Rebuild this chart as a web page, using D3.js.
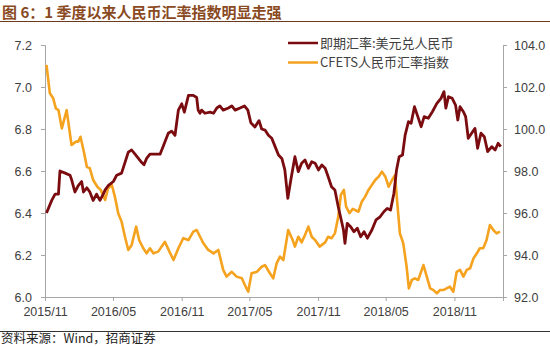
<!DOCTYPE html>
<html>
<head>
<meta charset="utf-8">
<script src="https://cdn.jsdelivr.net/npm/d3@7"></script>
<style>
  html, body { margin: 0; padding: 0; background: #fff; }
  svg { display: block; }
  text { font-family: "Liberation Sans", Arial, "Noto Sans CJK SC", sans-serif; }
  .cjk { font-family: "Noto Sans CJK SC", "Liberation Sans", sans-serif; }
</style>
</head>
<body>
<svg id="chart" width="550" height="347"></svg>
<script>
// USD/CNY spot rate (left axis)
const usdCny = [
  ["2015-11-05",6.40],["2015-11-19",6.46],["2015-11-28",6.49],["2015-12-07",6.49],["2015-12-11",6.60],
  ["2015-12-25",6.59],["2016-01-07",6.58],["2016-01-11",6.56],["2016-01-20",6.50],["2016-01-29",6.53],
  ["2016-02-07",6.55],["2016-02-12",6.50],["2016-02-21",6.52],["2016-02-29",6.50],["2016-03-09",6.46],
  ["2016-03-18",6.49],["2016-03-27",6.46],["2016-04-05",6.49],["2016-04-10",6.51],["2016-04-18",6.53],
  ["2016-05-02",6.55],["2016-05-11",6.58],["2016-05-24",6.59],["2016-06-02",6.64],["2016-06-11",6.69],
  ["2016-06-20",6.70],["2016-06-29",6.68],["2016-07-08",6.66],["2016-07-17",6.64],["2016-07-23",6.63],
  ["2016-07-30",6.66],["2016-08-08",6.68],["2016-08-22",6.68],["2016-09-04",6.68],["2016-09-13",6.72],
  ["2016-09-26",6.78],["2016-10-05",6.79],["2016-10-14",6.77],["2016-10-23",6.89],["2016-11-01",6.92],
  ["2016-11-08",6.88],["2016-11-19",6.96],["2016-12-02",6.96],["2016-12-11",6.95],["2016-12-15",6.89],
  ["2016-12-20",6.875],["2016-12-24",6.89],["2017-01-02",6.875],["2017-01-16",6.88],["2017-01-25",6.875],
  ["2017-02-03",6.90],["2017-02-11",6.91],["2017-02-20",6.89],["2017-03-06",6.90],["2017-03-15",6.91],
  ["2017-03-24",6.89],["2017-04-06",6.90],["2017-04-18",6.91],["2017-04-27",6.89],["2017-05-05",6.83],
  ["2017-05-16",6.81],["2017-05-27",6.84],["2017-06-03",6.80],["2017-06-12",6.795],["2017-06-21",6.77],
  ["2017-06-30",6.756],["2017-07-09",6.716],["2017-07-18",6.676],["2017-07-27",6.66],["2017-08-04",6.605],
  ["2017-08-12",6.47],["2017-08-20",6.557],["2017-08-31",6.668],["2017-09-09",6.597],["2017-09-18",6.637],
  ["2017-09-27",6.652],["2017-10-06",6.613],["2017-10-15",6.644],["2017-10-24",6.637],["2017-11-02",6.605],
  ["2017-11-11",6.629],["2017-11-20",6.613],["2017-11-28",6.573],["2017-12-07",6.525],["2017-12-16",6.51],
  ["2017-12-25",6.43],["2018-01-01",6.375],["2018-01-08",6.319],["2018-01-12",6.256],["2018-01-18",6.351],
  ["2018-01-27",6.335],["2018-02-05",6.311],["2018-02-14",6.327],["2018-02-23",6.287],["2018-03-04",6.311],
  ["2018-03-13",6.28],["2018-03-25",6.319],["2018-04-05",6.367],["2018-04-16",6.382],["2018-04-26",6.406],
  ["2018-05-05",6.422],["2018-05-14",6.414],["2018-05-23",6.494],["2018-05-30",6.605],["2018-06-06",6.668],
  ["2018-06-15",6.676],["2018-06-22",6.771],["2018-07-01",6.835],["2018-07-08",6.827],["2018-07-17",6.906],
  ["2018-07-26",6.859],["2018-08-04",6.811],["2018-08-12",6.859],["2018-08-23",6.851],["2018-09-03",6.882],
  ["2018-09-15",6.922],["2018-09-26",6.946],["2018-10-04",6.978],["2018-10-09",6.899],["2018-10-16",6.954],
  ["2018-10-26",6.946],["2018-11-04",6.914],["2018-11-10",6.843],["2018-11-16",6.906],["2018-11-25",6.882],
  ["2018-12-01",6.859],["2018-12-08",6.756],["2018-12-17",6.78],["2018-12-26",6.803],["2019-01-02",6.708],
  ["2019-01-11",6.78],["2019-01-20",6.763],["2019-01-29",6.692],["2019-02-09",6.716],["2019-02-18",6.70],
  ["2019-02-26",6.732],["2019-03-05",6.716]
];

// CFETS RMB index (right axis)
const cfets = [
  ["2015-11-05",103.05],["2015-11-14",101.7],["2015-11-23",101.46],["2015-11-30",100.98],["2015-12-07",100.9],
  ["2015-12-16",100.03],["2015-12-29",100.9],["2016-01-11",99.24],["2016-01-23",99.40],["2016-01-29",99.40],
  ["2016-02-04",99.63],["2016-02-13",98.92],["2016-02-21",98.2],["2016-02-29",98.13],["2016-03-09",97.57],
  ["2016-03-20",97.25],["2016-03-29",97.1],["2016-04-10",96.62],["2016-04-18",97.18],["2016-04-28",97.33],
  ["2016-05-06",96.78],["2016-05-15",95.99],["2016-05-24",95.59],["2016-06-02",94.87],["2016-06-11",94.24],
  ["2016-06-20",94.48],["2016-07-02",95.35],["2016-07-10",94.71],["2016-07-21",94.32],["2016-07-30",94.08],
  ["2016-08-08",94.32],["2016-08-17",94.08],["2016-08-30",94.16],["2016-09-17",94.63],["2016-09-29",94.16],
  ["2016-10-10",93.76],["2016-10-23",94.32],["2016-11-05",94.8],["2016-11-19",94.71],["2016-12-02",95.11],
  ["2016-12-11",95.19],["2016-12-20",94.87],["2016-12-29",94.56],["2017-01-11",94.24],["2017-01-25",94.08],
  ["2017-02-07",94.24],["2017-02-20",93.29],["2017-03-01",92.97],["2017-03-15",93.2],["2017-03-28",92.97],
  ["2017-04-11",92.89],["2017-04-19",92.57],["2017-04-28",92.25],["2017-05-07",93.13],["2017-05-21",93.2],
  ["2017-06-03",93.44],["2017-06-12",93.52],["2017-06-25",93.13],["2017-07-04",92.89],["2017-07-13",93.6],
  ["2017-07-22",93.92],["2017-07-31",93.76],["2017-08-13",95.19],["2017-08-25",94.71],["2017-08-31",94.4],
  ["2017-09-09",94.87],["2017-09-18",94.6],["2017-09-27",94.95],["2017-10-06",95.35],["2017-10-15",94.87],
  ["2017-10-24",94.71],["2017-11-05",94.4],["2017-11-20",94.6],["2017-11-28",94.87],["2017-12-07",94.8],
  ["2017-12-16",95.03],["2017-12-25",95.82],["2018-01-01",96.86],["2018-01-09",97.1],["2018-01-15",96.3],
  ["2018-01-24",95.99],["2018-02-02",96.2],["2018-02-17",96.06],["2018-02-26",96.54],["2018-03-07",96.78],
  ["2018-03-16",97.1],["2018-03-25",97.33],["2018-04-03",97.57],["2018-04-12",97.73],["2018-04-21",97.97],
  ["2018-04-30",97.73],["2018-05-09",97.25],["2018-05-18",97.57],["2018-05-26",97.8],["2018-05-30",96.9],
  ["2018-06-08",95.03],["2018-06-17",94.56],["2018-06-26",93.44],["2018-07-02",92.41],["2018-07-10",92.81],
  ["2018-07-18",92.89],["2018-07-27",92.81],["2018-08-10",93.52],["2018-08-19",92.97],["2018-08-28",92.41],
  ["2018-09-06",92.33],["2018-09-15",92.17],["2018-09-23",92.33],["2018-10-02",92.33],["2018-10-11",92.41],
  ["2018-10-20",92.49],["2018-10-29",92.25],["2018-11-07",93.2],["2018-11-16",93.29],["2018-11-25",92.97],
  ["2018-12-04",93.29],["2018-12-13",93.37],["2018-12-22",93.84],["2018-12-31",94.08],["2019-01-08",94.32],
  ["2019-01-17",94.32],["2019-01-26",94.71],["2019-02-04",95.43],["2019-02-13",95.19],["2019-02-22",95.03],
  ["2019-03-03",95.11]
];

const xTickLabels = ["2015/11","2016/05","2016/11","2017/05","2017/11","2018/05","2018/11"];
const leftTicks = [6.0, 6.2, 6.4, 6.6, 6.8, 7.0, 7.2];
const rightTicks = [92, 94, 96, 98, 100, 102, 104];
const seriesNames = ["即期汇率:美元兑人民币", "CFETS人民币汇率指数"];
const titleText = "图 6：1 季度以来人民币汇率指数明显走强";
const sourceText = "资料来源：Wind，招商证券";

const parseDay = d3.timeParse("%Y-%m-%d");
const parseMonth = d3.timeParse("%Y/%m");

const svg = d3.select("#chart");
const W = 550, H = 347;
const m = { left: 45, right: 47, top: 45, bottom: 50 };

const x = d3.scaleTime()
  .domain([parseDay("2015-11-01"), parseDay("2019-03-11")])
  .range([m.left, W - m.right]);
const yL = d3.scaleLinear().domain([6.0, 7.2]).range([H - m.bottom, m.top]);
const yR = d3.scaleLinear().domain([92, 104]).range([H - m.bottom, m.top]);

const axisColor = "#a6a6a6";
const labelColor = "#404040";
const colSpot = "#7a0b0f";
const colIdx = "#f5a21e";

// title and rule
svg.append("text").attr("class", "cjk")
  .attr("x", 2).attr("y", 18)
  .attr("font-size", 15).attr("font-weight", "bold")
  .attr("fill", "#8a4a1f")
  .text(titleText);
svg.append("line").attr("x1", 0).attr("x2", W).attr("y1", 21.5).attr("y2", 21.5)
  .attr("stroke", "#6b3a1f").attr("stroke-width", 1.2);

// axes
const fmt = d3.format(".1f");
const gL = svg.append("g").attr("transform", `translate(${m.left},0)`)
  .call(d3.axisLeft(yL).tickValues(leftTicks).tickFormat(fmt).tickSize(4).tickPadding(9));
const gR = svg.append("g").attr("transform", `translate(${W - m.right},0)`)
  .call(d3.axisRight(yR).tickValues(rightTicks).tickFormat(fmt).tickSize(4).tickPadding(7));
const gB = svg.append("g").attr("transform", `translate(0,${H - m.bottom})`)
  .call(d3.axisBottom(x).tickValues(xTickLabels.map(parseMonth))
    .tickFormat(d3.timeFormat("%Y/%m")).tickSize(4).tickPadding(6));

[gL, gR, gB].forEach(g => {
  g.select(".domain").attr("stroke", axisColor);
  g.selectAll(".tick line").attr("stroke", axisColor);
  g.selectAll(".tick text").attr("fill", labelColor)
    .attr("font-size", 12.5)
    .attr("font-family", "'Liberation Sans', Arial, sans-serif");
});

// series lines
const lineL = d3.line().x(d => x(parseDay(d[0]))).y(d => yL(d[1]));
const lineR = d3.line().x(d => x(parseDay(d[0]))).y(d => yR(d[1]));

svg.append("path").datum(cfets)
  .attr("d", lineR).attr("fill", "none")
  .attr("stroke", colIdx).attr("stroke-width", 2.6)
  .attr("stroke-linejoin", "round");
svg.append("path").datum(usdCny)
  .attr("d", lineL).attr("fill", "none")
  .attr("stroke", colSpot).attr("stroke-width", 2.8)
  .attr("stroke-linejoin", "round");

// legend
const legend = svg.append("g").attr("transform", "translate(288,43)");
[colSpot, colIdx].forEach((c, i) => {
  const row = legend.append("g").attr("transform", `translate(0,${i * 19.5})`);
  row.append("line").attr("x1", 0).attr("x2", 30).attr("y1", 0).attr("y2", 0)
    .attr("stroke", c).attr("stroke-width", 2.5);
  row.append("text").attr("class", "cjk")
    .attr("x", 32).attr("y", 0).attr("dy", "0.36em")
    .attr("font-size", 13).attr("fill", labelColor)
    .text(seriesNames[i]);
});

// source line and note
svg.append("line").attr("x1", 0).attr("x2", W).attr("y1", 331.5).attr("y2", 331.5)
  .attr("stroke", "#333").attr("stroke-width", 1);
svg.append("text").attr("class", "cjk")
  .attr("x", 1).attr("y", 343)
  .attr("font-size", 12.5).attr("fill", "#222")
  .text(sourceText);
</script>
</body>
</html>
